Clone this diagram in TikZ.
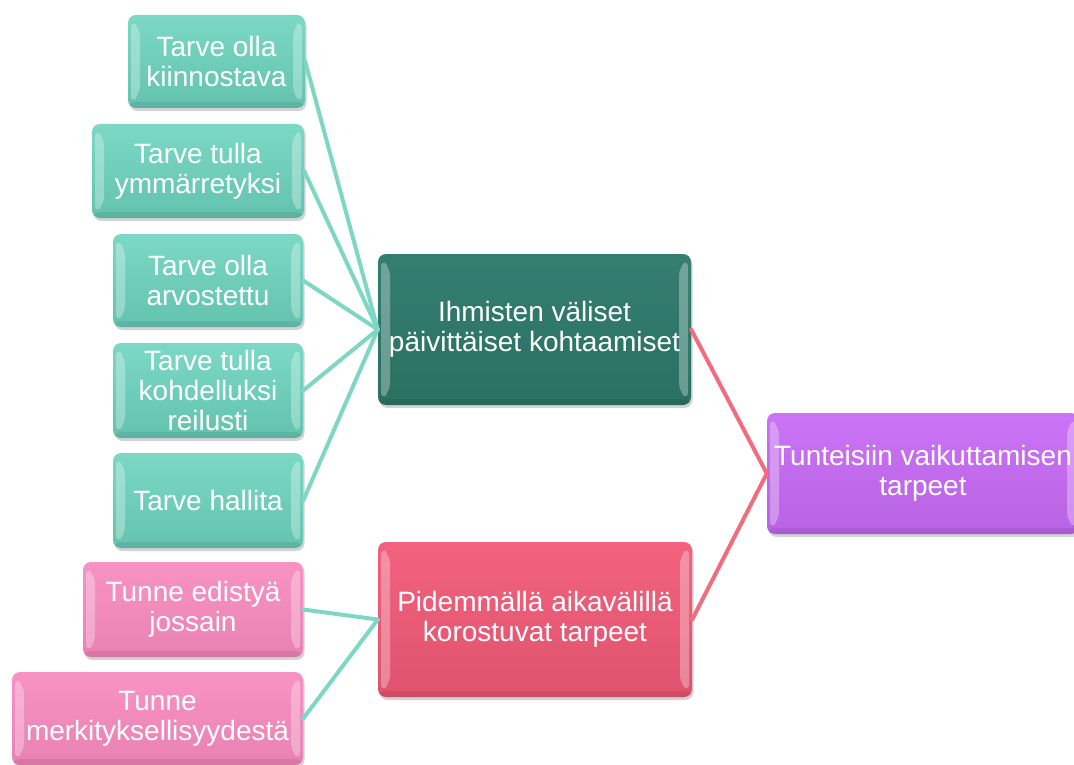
\documentclass[tikz,border=0pt]{standalone}
\usepackage{fontspec}
\setmainfont{Liberation Sans}
\usepackage{tikz}
\usetikzlibrary{calc}
\usetikzlibrary{shadows}
\definecolor{nteal}{RGB}{108, 212, 190}
\definecolor{dteal}{RGB}{46, 122, 108}
\definecolor{npink}{RGB}{247, 138, 190}
\definecolor{nred}{RGB}{242, 90, 120}
\definecolor{npurple}{RGB}{200, 108, 246}
\definecolor{lteal}{RGB}{125, 215, 195}
\definecolor{lred}{RGB}{242, 108, 125}
\newcommand{\boxfont}{\fontsize{28}{30}\selectfont}
\tikzset{bevel/.style = {path picture={
           \fill [white, opacity=0.3]
             ($(path picture bounding box.north west)+(3pt,-5pt)$) -- ++(9pt,-9pt)
             -- ($(path picture bounding box.south west)+(12pt,14pt)$) -- ++(-9pt,-9pt) -- cycle;
           \fill [white, opacity=0.3]
             ($(path picture bounding box.north east)+(-3pt,-5pt)$) -- ++(-9pt,-9pt)
             -- ($(path picture bounding box.south east)+(-12pt,14pt)$) -- ++(9pt,-9pt) -- cycle;
           \fill [black, opacity=0.08]
             ($(path picture bounding box.south west)+(0pt,6pt)$) rectangle (path picture bounding box.south east);}}}
\tikzset{box/.style = {rounded corners=8pt, inner sep=0, align=center, text=white,
                       font=\boxfont, bevel,
                       drop shadow={opacity=0.35, shadow xshift=1.5pt, shadow yshift=-3pt}}}
\tikzset{need/.style = {box, top color=nteal!90!white, bottom color=nteal!92!black}}
\tikzset{feel/.style = {box, top color=npink!92!white, bottom color=npink!94!black}}
\tikzset{link/.style = {line width=4pt, line cap=round}}

\begin{document}
\begin{tikzpicture}[x=1pt, y=-1pt]
      \useasboundingbox (0, 0) rectangle (1074, 765);

      \node [need, minimum width=177, minimum height=93] (kiinn) at (216.5, 61.5) {Tarve olla\\kiinnostava};
      \node [need, minimum width=212, minimum height=94] (ymm) at (198, 171) {Tarve tulla\\ymmärretyksi};
      \node [need, minimum width=190, minimum height=93] (arvo) at (208, 280.5) {Tarve olla\\arvostettu};
      \node [need, minimum width=190, minimum height=95] (reil) at (208, 390.5) {Tarve tulla\\kohdelluksi\\reilusti};
      \node [need, minimum width=190, minimum height=95] (hall) at (208, 500.5) {Tarve hallita};
      \node [feel, minimum width=220, minimum height=95] (edis) at (193, 609.5) {Tunne edistyä\\jossain};
      \node [feel, minimum width=291, minimum height=93] (merk) at (157.5, 718.5) {Tunne\\merkityksellisyydestä};

      \node [box, top color=dteal!97!white, bottom color=dteal!92!black,
             minimum width=313, minimum height=151] (kohta) at (534.5, 329.5)
            {Ihmisten väliset\\päivittäiset kohtaamiset};
      \node [box, top color=nred!95!white, bottom color=nred!92!black,
             minimum width=314, minimum height=155] (pitka) at (535, 619.5)
            {Pidemmällä aikavälillä\\korostuvat tarpeet};
      \node [box, top color=npurple!95!white, bottom color=npurple!92!black,
             minimum width=312, minimum height=121] (tunne) at (923, 473.5)
            {Tunteisiin vaikuttamisen\\tarpeet};

      \foreach \n in {kiinn, ymm, arvo, reil, hall} {
        \draw [link, lteal] (\n.east) -- (kohta.west);
      }
      \foreach \n in {edis, merk} {
        \draw [link, lteal] (\n.east) -- (pitka.west);
      }
      \draw [link, lred] (kohta.east) -- (tunne.west);
      \draw [link, lred] (pitka.east) -- (tunne.west);
    \end{tikzpicture}
\end{document}
